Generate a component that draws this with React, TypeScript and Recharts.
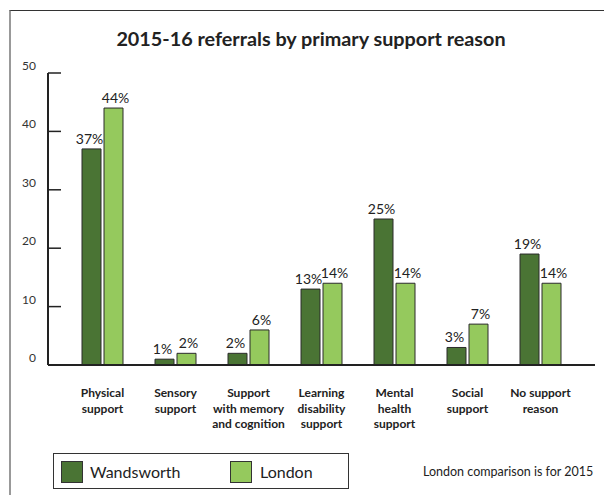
import React from 'react';
import { BarChart, Bar, XAxis, YAxis, LabelList } from 'recharts';

const categories = [
  'Physical\nsupport',
  'Sensory\nsupport',
  'Support\nwith memory\nand cognition',
  'Learning\ndisability\nsupport',
  'Mental\nhealth\nsupport',
  'Social\nsupport',
  'No support\nreason',
];
const wandsworth = [37, 1, 2, 13, 25, 3, 19];
const london = [44, 2, 6, 14, 14, 7, 14];
const yTicks = [0, 10, 20, 30, 40, 50];

const DARK = '#4a7434';
const LIGHT = '#95c95d';
const FONT = 'Lato, "Open Sans", sans-serif';

const data = categories.map((name, i) => ({ name, wandsworth: wandsworth[i], london: london[i] }));

// ticks drawn inward from the axis line, label sits a little above
const YTick = (props: any) => {
  const { x, y, payload } = props;
  return (
    <g>
      <line x1={x} x2={x + 13} y1={y} y2={y} stroke="#222" strokeWidth={1.5} />
      <text x={x - 12} y={y - 3} textAnchor="end" fontSize={12} fill="#333" fontFamily={FONT}>
        {payload.value}
      </text>
    </g>
  );
};

const XTick = (props: any) => {
  const { x, y, payload } = props;
  const lines = String(payload.value).split('\n');
  return (
    <text x={x} y={y} textAnchor="middle" fontSize={12} fontWeight="bold" fill="#222" fontFamily={FONT}>
      {lines.map((l, i) => (
        <tspan key={i} x={x} dy={i === 0 ? 32 : 15.5}>{l}</tspan>
      ))}
    </text>
  );
};

// percent label above a bar, nudged sideways so neighbouring labels don't collide
const pctLabel = (shift: number) => (props: any) => {
  const { x, y, width, value } = props;
  return (
    <text x={x + width / 2 + shift} y={y - 5} textAnchor="middle" fontSize={14} fill="#222" fontFamily={FONT}>
      {`${value}%`}
    </text>
  );
};

export default function App() {
  return (
    <div style={{ position: 'absolute', left: 0, top: 0, width: 604, height: 495, background: '#fff', overflow: 'hidden', fontFamily: FONT }}>
      {/* frame */}
      <div style={{ position: 'absolute', left: 9, top: 10, width: 700, height: 600, borderTop: '1.5px solid #333', borderLeft: '2px solid #999' }} />
      <div style={{ position: 'absolute', left: 0, top: 26, width: 622, textAlign: 'center', fontSize: 19.8, fontWeight: 'bold', color: '#222' }}>
        2015-16 referrals by primary support reason
      </div>
      <div style={{ position: 'absolute', left: 0, top: 0 }}>
        <BarChart width={604} height={495} data={data} margin={{ top: 73, right: 9, bottom: 0, left: 0 }} barSize={19} barGap={3}>
          <YAxis
            domain={[0, 50]}
            ticks={yTicks}
            width={48}
            tickSize={0}
            tickMargin={0}
            tickLine={false}
            axisLine={{ stroke: '#222', strokeWidth: 2 }}
            tick={<YTick />}
            interval={0}
          />
          <XAxis
            dataKey="name"
            height={130}
            padding={{ left: 18, right: 18 }}
            tickSize={0}
            tickMargin={0}
            tickLine={false}
            axisLine={{ stroke: '#222', strokeWidth: 2 }}
            tick={<XTick />}
            interval={0}
          />
          <Bar dataKey="wandsworth" fill={DARK} stroke="#2a2a2a" strokeWidth={1} isAnimationActive={false}>
            <LabelList dataKey="wandsworth" content={pctLabel(-2)} />
          </Bar>
          <Bar dataKey="london" fill={LIGHT} stroke="#2a2a2a" strokeWidth={1} isAnimationActive={false}>
            <LabelList dataKey="london" content={pctLabel(2)} />
          </Bar>
        </BarChart>
      </div>
      {/* legend */}
      <div style={{ position: 'absolute', left: 53, top: 453, width: 296, height: 36, border: '1px solid #333', boxSizing: 'border-box' }}>
        <div style={{ position: 'absolute', left: 7, top: 7, width: 20, height: 20, background: DARK, border: '1px solid #333' }} />
        <div style={{ position: 'absolute', left: 36, top: 7, fontSize: 16, lineHeight: '21px', color: '#222' }}>Wandsworth</div>
        <div style={{ position: 'absolute', left: 176, top: 7, width: 20, height: 20, background: LIGHT, border: '1px solid #333' }} />
        <div style={{ position: 'absolute', left: 206, top: 7, fontSize: 16, lineHeight: '21px', color: '#222' }}>London</div>
      </div>
      <div style={{ position: 'absolute', left: 423, top: 463, fontSize: 12.5, lineHeight: '18px', color: '#222', whiteSpace: 'nowrap' }}>
        London comparison is for 2015
      </div>
    </div>
  );
}
